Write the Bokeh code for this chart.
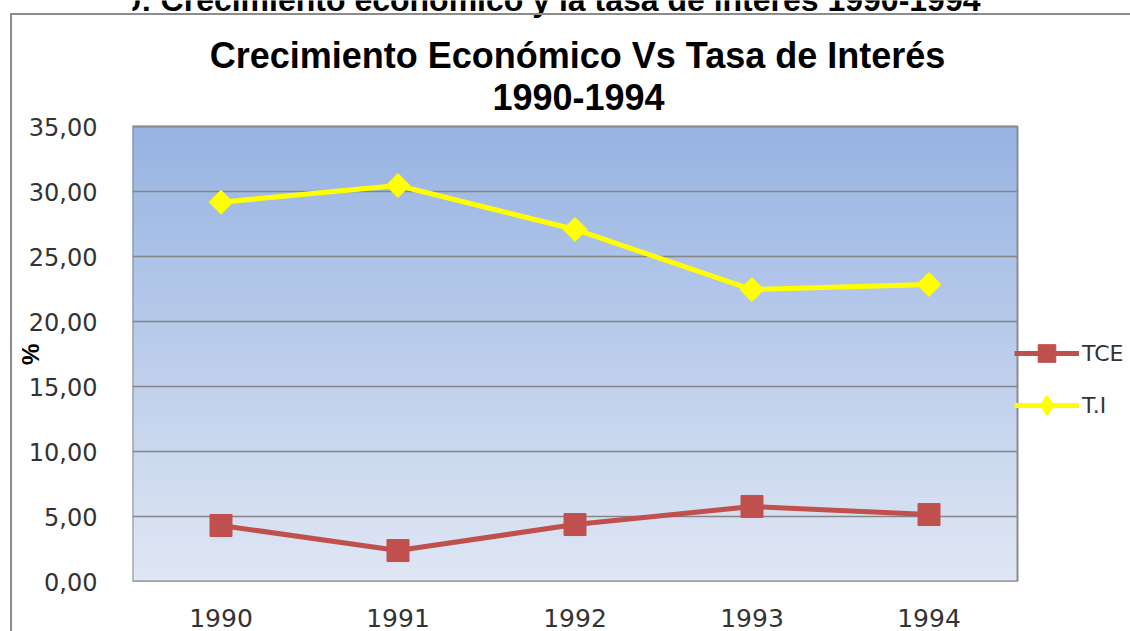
import math
from bokeh.plotting import figure
from bokeh.models import Range1d, FixedTicker, Legend, LegendItem, Label, InlineStyleSheet
from bokeh.embed import file_html
from bokeh.resources import INLINE

# ---- data ----
years = ["1990", "1991", "1992", "1993", "1994"]
tce = [4.31, 2.38, 4.38, 5.77, 5.15]
ti = [29.18, 30.46, 27.08, 22.46, 22.85]
series_names = ["TCE", "T.I"]
y_ticks = [0, 5, 10, 15, 20, 25, 30, 35]
y_tick_labels = ["0,00", "5,00", "10,00", "15,00", "20,00", "25,00", "30,00", "35,00"]
title_lines = ["Crecimiento Económico Vs Tasa de Interés", "1990-1994"]
doc_caption = "Gráfico 10: Crecimiento económico y la tasa de interés 1990-1994"
y_axis_name = "%"

# ---- layout (pixels) ----
W, H = 1130, 631
AREA_L, AREA_R, AREA_T, AREA_B = 132, 1017, 126, 581   # plot area in the picture
TXT_SHIFT = 12                                          # baseline correction for labels

xs = list(range(len(years)))
x_lo, x_hi = -0.5, len(years) - 0.5
y_lo, y_hi = y_ticks[0], y_ticks[-1]
ppx = (AREA_R - AREA_L) / (x_hi - x_lo)      # pixels per x unit
ppy = (AREA_B - AREA_T) / (y_hi - y_lo)      # pixels per y unit

def dx(px):
    return x_lo + (px - AREA_L) / ppx

def dy(py):
    return y_lo + (AREA_B - py) / ppy

# the frame reaches the top and right edges so that titles / legend are drawn inside it
p = figure(width=W, height=H, output_backend="svg", toolbar_location=None,
           x_range=Range1d(x_lo, dx(W)), y_range=Range1d(y_lo, dy(0)),
           min_border_left=AREA_L, min_border_right=0, min_border_top=0,
           min_border_bottom=H - AREA_B, title=None)
p.background_fill_color = "white"
p.border_fill_color = "white"
p.outline_line_color = None
p.stylesheets = [InlineStyleSheet(css=":host{overflow:hidden;} :host::after{content:'';position:absolute;left:10px;top:13px;width:1300px;height:1000px;border:2.5px solid #8c8c8c;pointer-events:none;}")]

# gradient background of the plot area
top_rgb = (150, 179, 226)
bot_rgb = (224, 231, 244)
n = 70
lefts, rights, bottoms, tops, cols = [], [], [], [], []
for i in range(n):
    f = (i + 0.5) / n
    c = tuple(int(round(bot_rgb[k] + (top_rgb[k] - bot_rgb[k]) * f)) for k in range(3))
    col = "#%02x%02x%02x" % c
    lefts.append(x_lo); rights.append(x_hi)
    bottoms.append(y_lo + (y_hi - y_lo) * i / n); tops.append(y_lo + (y_hi - y_lo) * (i + 1) / n)
    cols.append(col)
p.quad(left=lefts, right=rights, bottom=bottoms, top=tops, fill_color=cols,
       line_color=cols, line_width=1)

# horizontal gridlines and plot-area border
p.segment(x0=[x_lo] * len(y_ticks), x1=[x_hi] * len(y_ticks), y0=y_ticks, y1=y_ticks,
          line_color="#858585", line_width=1.5)
p.quad(left=[x_lo], right=[x_hi], bottom=[y_lo], top=[y_hi], fill_alpha=0,
       line_color="#8c8c8c", line_width=2)

# axes
p.xaxis.ticker = FixedTicker(ticks=xs)
p.xaxis.major_label_overrides = {x: y for x, y in zip(xs, years)}
p.yaxis.ticker = FixedTicker(ticks=y_ticks)
p.yaxis.major_label_overrides = {t: l for t, l in zip(y_ticks, y_tick_labels)}
for ax in (p.xaxis, p.yaxis):
    ax.axis_line_color = None
    ax.major_tick_line_color = None
    ax.minor_tick_line_color = None
    ax.major_label_text_font = "DejaVu Sans"
    ax.major_label_text_color = "#333333"
p.xaxis.major_label_text_font_size = "25px"
p.yaxis.major_label_text_font_size = "24px"
p.xaxis.major_label_standoff = 21
p.yaxis.major_label_standoff = 29
# the axis label is centred on the whole frame; non-breaking padding moves the "%"
# down to the middle of the plot area
p.yaxis.axis_label = y_axis_name + "\u00a0" * 19
p.yaxis.axis_label_text_font = "Liberation Sans"
p.yaxis.axis_label_text_font_style = "bold"
p.yaxis.axis_label_text_font_size = "24px"
p.yaxis.axis_label_text_color = "black"
p.yaxis.axis_label_standoff = -18
p.xgrid.visible = False
p.ygrid.visible = False

# series
r1 = p.line(xs, tce, line_color="#c0504d", line_width=5)
m1 = p.scatter(xs, tce, marker="square", size=22, fill_color="#c0504d", line_color="#c0504d")
r2 = p.line(xs, ti, line_color="#ffff00", line_width=5)
k2 = p.scatter(xs, ti, marker="diamond", size=20, fill_color="#ffff00",
               line_color="#ffff00", line_width=2.5)
m2 = p.scatter(xs, ti, marker="square", angle=math.pi / 4, size=17,
               fill_color="#ffff00", line_color="#ffff00")

legend = Legend(items=[LegendItem(label=series_names[0], renderers=[r1, m1]),
                       LegendItem(label=series_names[1], renderers=[r2, k2])],
                location=(1014 - AREA_L, AREA_B - 427), orientation="vertical",
                glyph_width=65, glyph_height=44, label_height=44, spacing=8,
                label_standoff=3, padding=0, margin=0,
                border_line_color=None, background_fill_alpha=0,
                label_text_font="DejaVu Sans", label_text_font_size="22px",
                label_text_color="#333333")
p.add_layout(legend)

# titles
title_style = dict(text_font="Liberation Sans", text_font_style="bold", text_color="black",
                   text_baseline="alphabetic")
p.add_layout(Label(x=dx(577), y=dy(67 - TXT_SHIFT), text=title_lines[0], text_align="center",
                   text_font_size="36px", **title_style))
p.add_layout(Label(x=dx(578), y=dy(108 - TXT_SHIFT), text=title_lines[1], text_align="center",
                   text_font_size="36px", **title_style))
p.add_layout(Label(x=dx(980), y=dy(9 - 10), text=doc_caption, text_align="right",
                   text_font_size="32px", **title_style))

open("out.html", "w").write(file_html(p, INLINE))
